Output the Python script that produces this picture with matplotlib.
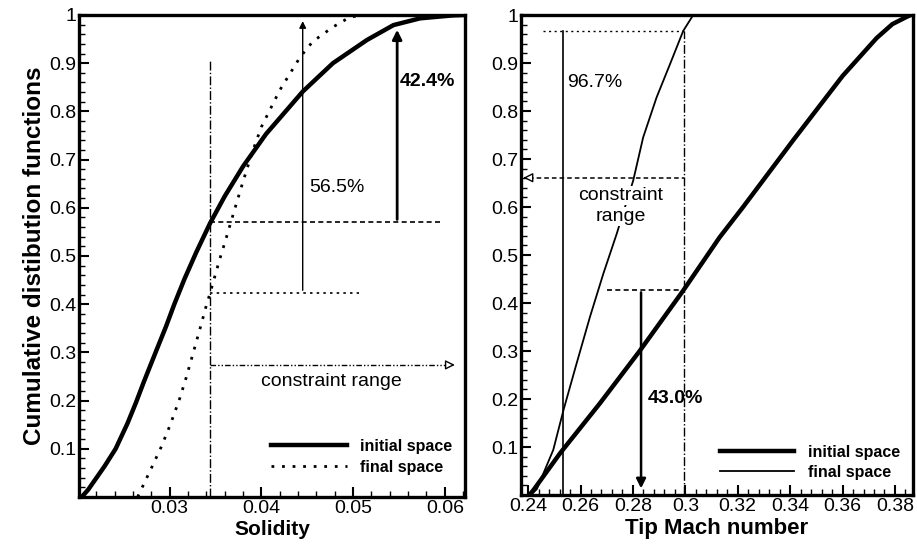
import numpy as np
import matplotlib
matplotlib.use('Agg')
import matplotlib.pyplot as plt
from matplotlib.ticker import MultipleLocator

plt.rcParams['font.family'] = ['Liberation Sans', 'DejaVu Sans']

# Left panel: solidity CDFs
sol_init_x = [0.0204, 0.0211, 0.0229, 0.0241, 0.0254, 0.0263, 0.0272, 0.0285, 0.0296,
              0.0305, 0.0316, 0.0329, 0.0344, 0.0360, 0.0380, 0.0405, 0.0445,
              0.0478, 0.0515, 0.0544, 0.0573, 0.0608, 0.0622]
sol_init_y = [0.0, 0.015, 0.064, 0.100, 0.153, 0.195, 0.240, 0.302, 0.354,
              0.400, 0.452, 0.508, 0.568, 0.624, 0.686, 0.753, 0.841,
              0.900, 0.948, 0.979, 0.993, 0.999, 1.0]
sol_final_x = [0.0265, 0.0272, 0.0281, 0.0291, 0.0301, 0.0311, 0.0318, 0.0325, 0.0334,
               0.0340, 0.0344, 0.0354, 0.0362, 0.0371, 0.0380, 0.0390, 0.0400,
               0.0420, 0.0442, 0.0456, 0.0478, 0.0496, 0.0510]
sol_final_y = [0.0, 0.028, 0.064, 0.105, 0.152, 0.205, 0.248, 0.295, 0.356,
               0.398, 0.423, 0.490, 0.540, 0.598, 0.655, 0.715, 0.768,
               0.844, 0.912, 0.945, 0.975, 0.995, 1.0]

# Right panel: tip Mach number CDFs
mach_init_x = [0.2405, 0.2420, 0.2522, 0.2674, 0.2827, 0.2992, 0.3131, 0.3219,
               0.3410, 0.3600, 0.3730, 0.3790, 0.3844, 0.3860]
mach_init_y = [0.0, 0.010, 0.087, 0.191, 0.301, 0.426, 0.537, 0.599,
               0.738, 0.873, 0.952, 0.981, 0.996, 1.0]
mach_final_x = [0.2410, 0.2433, 0.2496, 0.2535, 0.2585, 0.2636, 0.2687, 0.2738,
                0.2801, 0.2839, 0.2890, 0.2941, 0.2992, 0.3030]
mach_final_y = [0.0, 0.012, 0.094, 0.177, 0.274, 0.371, 0.461, 0.544,
                0.655, 0.745, 0.828, 0.897, 0.967, 1.0]

# constraint / annotation values
sol_limit = 0.0344
sol_init_at_limit = 0.57
sol_final_at_limit = 0.423
sol_label_a = '56.5%'
sol_label_b = '42.4%'
mach_limit_lo = 0.2535
mach_limit_hi = 0.2995
mach_final_at_hi = 0.967
mach_init_at_hi = 0.428
mach_label_a = '96.7%'
mach_label_b = '43.0%'

fig = plt.figure(figsize=(9.17, 5.5), dpi=100)
ax1 = fig.add_axes([0.0861, 0.0964, 0.421, 0.8764])
ax2 = fig.add_axes([0.5682, 0.1, 0.4275, 0.8727])


def style_axes(ax, xmaj, xmin):
    for s in ax.spines.values():
        s.set_linewidth(2.4)
    ax.set_ylim(0, 1)
    ax.xaxis.set_major_locator(MultipleLocator(xmaj))
    ax.xaxis.set_minor_locator(MultipleLocator(xmin))
    ax.set_yticks([0.1, 0.2, 0.3, 0.4, 0.5, 0.6, 0.7, 0.8, 0.9, 1.0])
    ax.set_yticklabels(['0.1', '0.2', '0.3', '0.4', '0.5', '0.6', '0.7', '0.8', '0.9', '1'])
    ax.yaxis.set_minor_locator(MultipleLocator(0.02))
    ax.tick_params(which='major', direction='in', length=7, width=1.5, labelsize=14, pad=2)
    ax.tick_params(which='minor', direction='in', length=4, width=1.0)


txt_bg = dict(facecolor='white', edgecolor='none', pad=0.5)

# ---- left panel ----
ax1.plot(sol_init_x, sol_init_y, color='black', lw=3.2, label='initial space')
ax1.plot(sol_final_x, sol_final_y, color='black', lw=2.0, ls=(0, (1, 2.8)), label='final space')
ax1.plot([sol_limit, sol_limit], [0, 0.907], color='black', lw=1.0, ls='-.')
ax1.plot([sol_limit, 0.0597], [sol_init_at_limit, sol_init_at_limit], color='black', lw=1.2, ls=(0, (3, 2)))
ax1.plot([sol_limit, 0.0506], [sol_final_at_limit, sol_final_at_limit], color='black', lw=1.2, ls=(0, (1.5, 2.5)))
ax1.annotate('', xy=(0.0445, 0.993), xytext=(0.0445, sol_final_at_limit),
             arrowprops=dict(arrowstyle='-|>', color='black', lw=1.0, mutation_scale=10))
ax1.annotate('', xy=(0.0548, 0.975), xytext=(0.0548, sol_init_at_limit),
             arrowprops=dict(arrowstyle='-|>', color='black', lw=2.0, mutation_scale=14))
ax1.plot([sol_limit, 0.0600], [0.274, 0.274], color='black', lw=1.0, ls=(0, (4, 1.5, 1, 1.5, 1, 1.5)))
ax1.annotate('', xy=(0.0614, 0.274), xytext=(0.0598, 0.274),
             arrowprops=dict(arrowstyle='-|>', color='black', fc='white', lw=1.0, mutation_scale=14))
ax1.text(0.0452, 0.643, sol_label_a, fontsize=14, ha='left', va='center')
ax1.text(0.0551, 0.862, sol_label_b, fontsize=14, fontweight='bold', ha='left', va='center')
ax1.text(0.0476, 0.239, 'constraint range', fontsize=14, ha='center', va='center')
ax1.set_xlim(0.0201, 0.0622)
style_axes(ax1, 0.01, 0.002)
ax1.set_xticks([0.03, 0.04, 0.05, 0.06])
ax1.set_xticklabels(['0.03', '0.04', '0.05', '0.06'])
ax1.set_xlabel('Solidity', fontsize=15, fontweight='bold', labelpad=2)
ax1.set_ylabel('Cumulative distibution functions', fontsize=17.5, fontweight='bold', labelpad=2)
ax1.legend(loc='lower right', bbox_to_anchor=(1.0, 0.02), frameon=False, handlelength=4.8,
           borderaxespad=0.4, labelspacing=0.35, handletextpad=0.8,
           prop={'weight': 'bold', 'size': 11.5})

# ---- right panel ----
ax2.plot(mach_init_x, mach_init_y, color='black', lw=3.2, label='initial space')
ax2.plot(mach_final_x, mach_final_y, color='black', lw=1.3, label='final space')
ax2.plot([mach_limit_lo, mach_limit_lo], [0, mach_final_at_hi], color='black', lw=1.2)
ax2.plot([0.2457, mach_limit_hi], [mach_final_at_hi, mach_final_at_hi], color='black', lw=1.0, ls=(0, (1.5, 2.5)))
ax2.plot([mach_limit_hi, mach_limit_hi], [0, mach_final_at_hi], color='black', lw=1.0, ls='-.')
ax2.plot([0.2402, mach_limit_hi], [0.661, 0.661], color='black', lw=1.1, ls=(0, (3, 2)))
ax2.annotate('', xy=(0.2382, 0.661), xytext=(0.2402, 0.661),
             arrowprops=dict(arrowstyle='-|>', color='black', fc='white', lw=1.0, mutation_scale=14))
ax2.plot([0.2700, mach_limit_hi], [mach_init_at_hi, mach_init_at_hi], color='black', lw=1.2, ls=(0, (3, 2)))
ax2.annotate('', xy=(0.2831, 0.008), xytext=(0.2831, mach_init_at_hi),
             arrowprops=dict(arrowstyle='-|>', color='black', lw=1.8, mutation_scale=14))
ax2.text(0.2547, 0.859, mach_label_a, fontsize=14, ha='left', va='center')
ax2.text(0.2752, 0.624, 'constraint', fontsize=14, ha='center', va='center', bbox=txt_bg)
ax2.text(0.2752, 0.580, 'range', fontsize=14, ha='center', va='center', bbox=txt_bg)
ax2.text(0.2857, 0.201, mach_label_b, fontsize=14, fontweight='bold', ha='left', va='center')
ax2.set_xlim(0.2373, 0.3869)
style_axes(ax2, 0.02, 0.004)
ax2.set_xticks([0.24, 0.26, 0.28, 0.30, 0.32, 0.34, 0.36, 0.38])
ax2.set_xticklabels(['0.24', '0.26', '0.28', '0.3', '0.32', '0.34', '0.36', '0.38'])
ax2.set_xlabel('Tip Mach number', fontsize=16, fontweight='bold', labelpad=2)
ax2.legend(loc='lower right', bbox_to_anchor=(1.0, 0.005), frameon=False, handlelength=4.6,
           borderaxespad=0.4, labelspacing=0.3, handletextpad=0.9,
           prop={'weight': 'bold', 'size': 11.5})

fig.savefig('out.png', dpi=100)
